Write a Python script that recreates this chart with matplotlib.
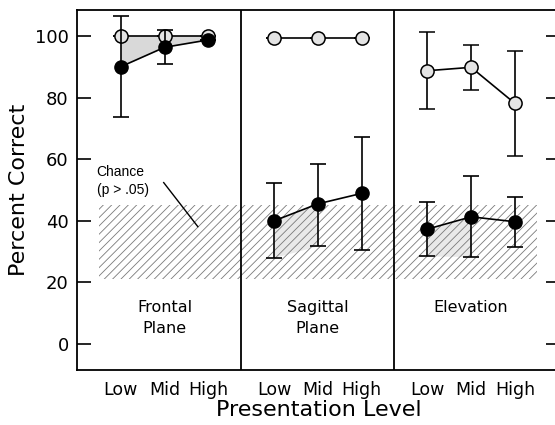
import numpy as np
import matplotlib.pyplot as plt
from matplotlib.patches import Rectangle

plt.rcParams['font.family'] = 'DejaVu Sans'
plt.rcParams['hatch.linewidth'] = 0.6

# x positions: three levels per panel, gap between panels
panels = ['Frontal\nPlane', 'Sagittal\nPlane', 'Elevation']
levels = ['Low', 'Mid', 'High']
xpos = [[0, 1, 2], [3.5, 4.5, 5.5], [7, 8, 9]]

# open (gray) series, per panel
open_mean = [[100, 100, 100], [99.3, 99.3, 99.3], [88.7, 89.8, 78.1]]
open_lo = [[100, 100, 100], [99.3, 99.3, 99.3], [76.2, 82.5, 61.1]]
open_hi = [[100, 100, 100], [99.3, 99.3, 99.3], [101.4, 97.1, 95.2]]

# filled (black) series, per panel
black_mean = [[90, 96.3, 98.7], [40.0, 45.5, 48.9], [37.3, 41.3, 39.7]]
black_lo = [[73.8, 91.0, 98.7], [28.1, 31.9, 30.5], [28.6, 28.4, 31.6]]
black_hi = [[106.5, 101.9, 98.7], [52.4, 58.3, 67.1], [46.2, 54.5, 47.8]]

chance_lo, chance_hi = 21, 45

fig = plt.figure(figsize=(5.55, 4.25), dpi=100)
ax = fig.add_axes([77/555, 1-370/425, 483/555, 360/425])

# chance band
ax.add_patch(Rectangle((-0.5, chance_lo), 10, chance_hi-chance_lo, fill=False,
                       hatch='////', edgecolor='#7a7a7a', linewidth=0, zorder=1))

for i in range(3):
    x = np.array(xpos[i])
    om = np.array(open_mean[i]); bm = np.array(black_mean[i])
    if i == 0:
        ax.fill_between(x, bm, om, color='#d9d9d9', zorder=2, linewidth=0)
    else:
        # faint shading below the Low-Mid segment
        ax.fill_between(x[:2], np.array(black_lo[i])[:2], bm[:2],
                        color='#e4e4e4', alpha=0.8, zorder=0.5, linewidth=0)
    oerr = [om - np.array(open_lo[i]), np.array(open_hi[i]) - om]
    berr = [bm - np.array(black_lo[i]), np.array(black_hi[i]) - bm]
    ax.errorbar(x, om, yerr=oerr, color='black', lw=1.2, capsize=6, capthick=1.2,
                marker='o', ms=9.5, mfc='#e4e4e4', mec='black', mew=1.1, zorder=3)
    ax.errorbar(x, bm, yerr=berr, color='black', lw=1.2, capsize=6, capthick=1.2,
                marker='o', ms=9.5, mfc='black', mec='black', zorder=4)
    ax.text(x[1], 12, panels[i].split('\n')[0], ha='center', va='center', fontsize=11.5)
    if '\n' in panels[i]:
        ax.text(x[1], 5.2, panels[i].split('\n')[1], ha='center', va='center', fontsize=11.5)

for xd in [2.75, 6.25]:
    ax.axvline(xd, color='black', lw=1.3, zorder=5)

ax.text(-0.55, 52.9, 'Chance\n(p > .05)', family='Liberation Sans', fontsize=10,
        ha='left', va='center', linespacing=1.35)
ax.plot([0.98, 1.76], [52.4, 38.1], color='black', lw=1.0)

ax.set_xlim(-1.0, 10.03)
ax.set_ylim(-8.4, 108.4)
ax.set_yticks([0, 20, 40, 60, 80, 100])
ax.set_xticks([p for row in xpos for p in row])
ax.set_xticklabels(levels * 3, fontsize=12.5)
ax.tick_params(axis='x', length=0, pad=8)
ax.tick_params(axis='y', direction='in', length=10, width=1.2, right=True,
               labelsize=13, pad=6)
for s in ax.spines.values():
    s.set_linewidth(1.3)
ax.set_ylabel('Percent Correct', fontsize=16, labelpad=4)
ax.set_xlabel('Presentation Level', fontsize=16, labelpad=1)

fig.savefig('out.png', dpi=100)
